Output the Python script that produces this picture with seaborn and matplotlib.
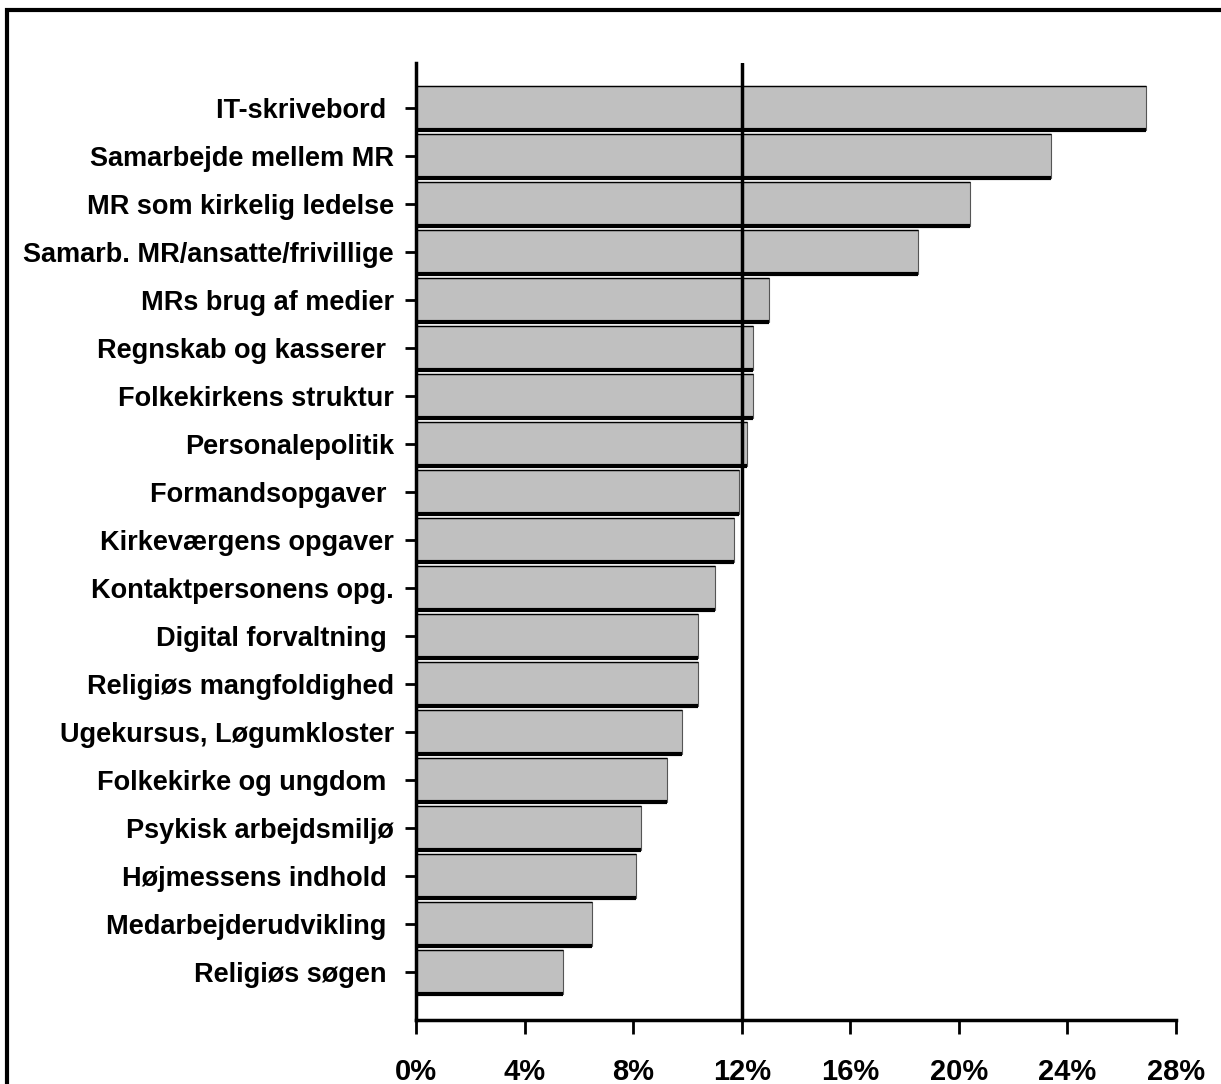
import numpy as np
import pandas as pd
import seaborn as sns
import matplotlib.pyplot as plt
from matplotlib.patches import Rectangle

# kursusemner og andel (%)
emner = ["IT-skrivebord ", "Samarbejde mellem MR", "MR som kirkelig ledelse",
         "Samarb. MR/ansatte/frivillige", "MRs brug af medier", "Regnskab og kasserer ",
         "Folkekirkens struktur", "Personalepolitik", "Formandsopgaver ",
         "Kirkeværgens opgaver", "Kontaktpersonens opg.", "Digital forvaltning ",
         "Religiøs mangfoldighed", "Ugekursus, Løgumkloster", "Folkekirke og ungdom ",
         "Psykisk arbejdsmiljø", "Højmessens indhold ", "Medarbejderudvikling ",
         "Religiøs søgen "]
andel = [26.9, 23.4, 20.4, 18.5, 13.0, 12.4, 12.4, 12.2, 11.9, 11.7,
         11.0, 10.4, 10.4, 9.8, 9.25, 8.3, 8.1, 6.5, 5.4]
xticks = [0, 4, 8, 12, 16, 20, 24, 28]
gennemsnit = 12

df = pd.DataFrame({"emne": emner, "andel": andel})

sns.set_style("white")
plt.rcParams["font.family"] = ["Liberation Sans", "DejaVu Sans"]
plt.rcParams["font.weight"] = "bold"
plt.rcParams["text.color"] = "black"
plt.rcParams["xtick.color"] = "black"
plt.rcParams["ytick.color"] = "black"

fig = plt.figure(figsize=(12.21, 10.84), dpi=100)
ax = fig.add_axes([0.3407, 0.059, 0.6225, 0.883])

sns.barplot(data=df, x="andel", y="emne", color="#c0c0c0", saturation=1,
            width=0.9, edgecolor="#555555", linewidth=0.8, ax=ax)

# tyk sort underkant paa hver bjaelke
for p in ax.patches:
    y0 = p.get_y() + p.get_height()
    ax.hlines(y0, 0, p.get_width(), color="black", lw=3, zorder=3)
    ax.hlines(p.get_y(), 0, p.get_width(), color="black", lw=1, zorder=3)

ax.axvline(gennemsnit, color="black", lw=2.5, zorder=4)

ax.set_xlim(0, 28)
ax.set_ylim(len(emner) - 1 + 1.0, -0.94)
ax.set_xticks(xticks)
ax.set_xticklabels([f"{t}%" for t in xticks])
ax.set_xlabel("")
ax.set_ylabel("")

for s in ["top", "right"]:
    ax.spines[s].set_visible(False)
for s in ["left", "bottom"]:
    ax.spines[s].set_linewidth(2.5)
    ax.spines[s].set_color("black")

ax.tick_params(axis="x", direction="out", length=10, width=2, pad=17,
               labelsize=21, bottom=True, labelcolor="black")
ax.tick_params(axis="y", direction="out", length=8, width=2, pad=8,
               labelsize=19.5, left=True, labelcolor="black")
for lab in ax.get_xticklabels() + ax.get_yticklabels():
    lab.set_fontweight("bold")

# ramme rundt om figuren
fig.patches.append(Rectangle((7 / 1221, -0.1), 1.2, 1.1 - 10 / 1084,
                             transform=fig.transFigure, fill=False,
                             edgecolor="black", lw=3))

fig.savefig("out.png", dpi=100)
